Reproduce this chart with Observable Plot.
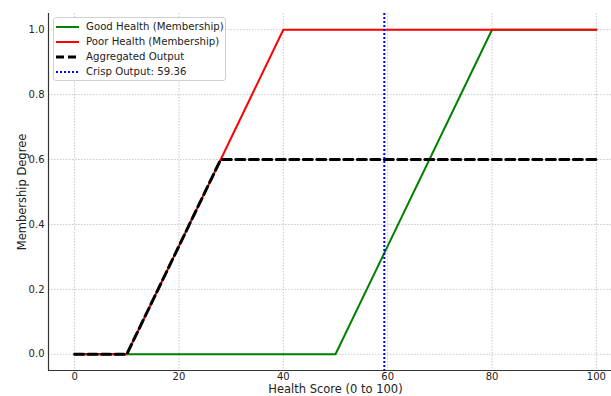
<!DOCTYPE html>
<html>
<head>
<meta charset="utf-8">
<script src="https://cdn.jsdelivr.net/npm/d3@7"></script>
<script src="https://cdn.jsdelivr.net/npm/@observablehq/plot@0.6"></script>
<style>
  html, body { margin: 0; padding: 0; background: #fff; }
  #wrap { position: relative; width: 611px; height: 396px; font-family: "DejaVu Sans", sans-serif; }
  #legend { position: absolute; left: 53px; top: 17px; width: 171px; height: 62px; border: 1px solid #d0d0d0; border-radius: 3px; background: rgba(255,255,255,0.85); font-size: 10.2px; color: #222; }
  .row { position: absolute; left: 2px; height: 15px; display: flex; align-items: center; white-space: nowrap; }
  .row svg { width: 23px; height: 10px; margin-right: 7px; flex: none; }
</style>
</head>
<body>
<div id="wrap">
  <div id="chart"></div>
  <div id="legend"></div>
</div>
<script>
const goodX = [0, 50, 80, 100];
const goodY = [0, 0, 1, 1];
const poorX = [0, 10, 40, 100];
const poorY = [0, 0, 1, 1];
const aggX = [0, 10, 28, 100];
const aggY = [0, 0, 0.6, 0.6];
const crisp = 59.36;
const xTicks = [0, 20, 40, 60, 80, 100];
const yTicks = [0, 0.2, 0.4, 0.6, 0.8, 1.0];
const legendLabels = ["Good Health (Membership)", "Poor Health (Membership)", "Aggregated Output", "Crisp Output: " + crisp.toFixed(2)];

const toRows = (xs, ys) => xs.map((x, i) => ({x, y: ys[i]}));
const good = toRows(goodX, goodY);
const poor = toRows(poorX, poorY);
const agg = toRows(aggX, aggY);

const font = "DejaVu Sans, sans-serif";
const chart = Plot.plot({
  width: 611,
  height: 396,
  marginLeft: 48,
  marginRight: 0,
  marginTop: 13,
  marginBottom: 26,
  style: {fontFamily: font, fontSize: "10px", color: "#222", background: "white"},
  x: {domain: [-5, 102.9]},
  y: {domain: [-0.05, 1.05]},
  marks: [
    Plot.gridX(xTicks, {stroke: "#b0b0b0", strokeOpacity: 0.7, strokeDasharray: "1.5,1.5"}),
    Plot.gridY(yTicks, {stroke: "#b0b0b0", strokeOpacity: 0.7, strokeDasharray: "1.5,1.5"}),
    Plot.axisX(xTicks, {tickSize: 0, tickPadding: 2, label: null, fontSize: 10}),
    Plot.axisY(yTicks, {tickSize: 0, tickPadding: 4, label: null, tickFormat: d3.format(".1f"), fontSize: 10}),
    Plot.ruleX([-5], {stroke: "#333", strokeWidth: 1.2}),
    Plot.ruleY([-0.05], {stroke: "#333", strokeWidth: 1.2}),
    Plot.line(good, {x: "x", y: "y", stroke: "green", strokeWidth: 2}),
    Plot.line(poor, {x: "x", y: "y", stroke: "red", strokeWidth: 2}),
    Plot.line(agg, {x: "x", y: "y", stroke: "black", strokeWidth: 3, strokeDasharray: "9,4.5"}),
    Plot.ruleX([crisp], {stroke: "blue", strokeWidth: 2, strokeDasharray: "2,2"}),
    Plot.text(["Health Score (0 to 100)"], {x: 50, frameAnchor: "bottom", lineAnchor: "middle", dy: 19, text: d => d, fontSize: 11.5, fill: "#222"}),
    Plot.text(["Membership Degree"], {frameAnchor: "left", textAnchor: "middle", lineAnchor: "middle", dx: -26, rotate: -90, text: d => d, fontSize: 11.5, fill: "#222"})
  ]
});
document.getElementById("chart").appendChild(chart);

const legend = document.getElementById("legend");
const styles = [
  {stroke: "green", w: 2, dash: ""},
  {stroke: "red", w: 2, dash: ""},
  {stroke: "black", w: 3, dash: "8,4"},
  {stroke: "blue", w: 2, dash: "2,2"}
];
legendLabels.forEach((lab, i) => {
  const r = document.createElement("div");
  r.className = "row";
  r.style.top = (1 + i * 15) + "px";
  const s = styles[i];
  r.innerHTML = `<svg viewBox="0 0 23 10"><line x1="0" x2="23" y1="5" y2="5" stroke="${s.stroke}" stroke-width="${s.w}" stroke-dasharray="${s.dash}"/></svg><span>${lab}</span>`;
  legend.appendChild(r);
});
</script>
</body>
</html>
